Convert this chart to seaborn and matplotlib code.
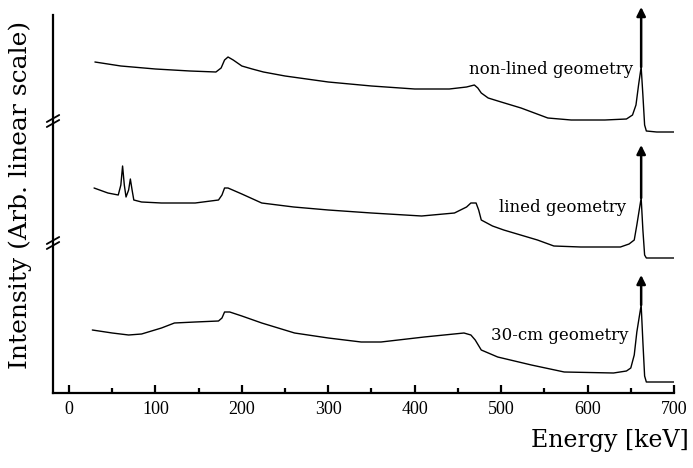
import numpy as np
import pandas as pd
import matplotlib
matplotlib.use("Agg")
import matplotlib.pyplot as plt
import matplotlib.transforms as mtransforms
import seaborn as sns

# Gamma-ray spectra (Cs-137 source), relative counts per spectrum
energy_nonlined = [30, 60, 100, 140, 170, 176, 180, 184, 190, 200, 212, 225, 250, 275,
                   300, 350, 400, 440, 460, 469, 473, 477, 485, 500, 523, 554, 581,
                   620, 645, 652, 656, 659, 662, 664, 666, 668, 680, 700]
counts_nonlined = [71, 67, 64, 62, 61, 65, 73, 76, 73, 67, 64, 61, 57, 54,
                   51, 47, 44, 44, 46, 48, 45, 40, 35, 31, 25, 15, 13,
                   13, 14, 18, 28, 48, 66, 38, 8, 2, 1, 1]

energy_lined = [29, 45, 57, 60, 62, 64, 66, 69, 71, 73, 75, 84, 107, 146, 173, 177,
                180, 184, 200, 223, 260, 300, 350, 408, 446, 460, 465, 471, 474,
                477, 490, 503, 542, 561, 592, 638, 648, 654, 657, 662, 664, 666,
                668, 700]
counts_lined = [70, 65, 63, 73, 92, 73, 61, 68, 79, 68, 58, 56, 55, 55, 58, 63,
                70, 70, 64, 55, 51, 48, 45, 42, 45, 51, 55, 55, 48,
                38, 32, 28, 18, 12, 11, 11, 14, 18, 33, 60, 28, 3,
                0, 0]

energy_30cm = [27, 50, 69, 84, 107, 122, 146, 173, 177, 180, 186, 200, 223, 261,
               300, 338, 361, 411, 457, 465, 470, 477, 496, 535, 573, 630, 645,
               650, 654, 657, 662, 664, 666, 668, 700]
counts_30cm = [52, 49, 47, 48, 54, 59, 60, 61, 64, 70, 70, 66, 59, 49,
               44, 40, 40, 45, 49, 47, 42, 32, 25, 17, 10, 9, 11,
               14, 27, 50, 77, 40, 6, 0, 0]

labels = ["non-lined geometry", "lined geometry", "30-cm geometry"]
offsets = [260, 135, 11]          # vertical stacking of the spectra
peak_energy = 662                  # Cs-137 photopeak (off scale)
arrow_tops = [126, 113, 107]       # arrow tip height above each spectrum's baseline

series = [(energy_nonlined, counts_nonlined), (energy_lined, counts_lined),
          (energy_30cm, counts_30cm)]

sns.set_theme(style="white")
plt.rcParams["font.family"] = ["DejaVu Serif"]
plt.rcParams["text.color"] = "black"
plt.rcParams["axes.labelcolor"] = "black"
plt.rcParams["xtick.color"] = "black"

fig = plt.figure(figsize=(6.93, 4.68), dpi=100)
ax = fig.add_axes([53 / 693, (468 - 393) / 468, 621 / 693, 378 / 468])

for (e, c), off, name in zip(series, offsets, labels):
    df = pd.DataFrame({"Energy": e, "Intensity": np.array(c) + off})
    sns.lineplot(data=df, x="Energy", y="Intensity", ax=ax, color="black",
                 linewidth=1.0, estimator=None, sort=False)

for (e, c), off, top in zip(series, offsets, arrow_tops):
    peak = c[e.index(peak_energy)] + off
    ax.annotate("", xy=(peak_energy, off + top), xytext=(peak_energy, peak),
                arrowprops=dict(arrowstyle="-|>", color="black", lw=1.8,
                                mutation_scale=13, shrinkA=0, shrinkB=0),
                annotation_clip=False)

label_pos = [(653, 323), (645, 185), (647, 58)]
for (x, y), name in zip(label_pos, labels):
    ax.text(x, y, name, ha="right", va="center", fontsize=12, color="black")

ax.set_xlim(-18.5, 700)
ax.set_ylim(0, 378)
ax.set_yticks([])
ax.set_xticks(range(0, 701, 100))
ax.set_xticks(range(50, 701, 100), minor=True)
ax.tick_params(axis="x", which="major", direction="in", length=6, width=1.6,
               pad=6, labelsize=13, bottom=True, colors="black")
ax.tick_params(axis="x", which="minor", direction="in", length=3.5, width=1.6,
               bottom=True, colors="black")
for lab in ax.get_xticklabels():
    lab.set_fontfamily("Liberation Serif")

for s in ["top", "right"]:
    ax.spines[s].set_visible(False)
for s in ["left", "bottom"]:
    ax.spines[s].set_linewidth(1.6)
    ax.spines[s].set_color("black")

# axis-break marks on the intensity axis
trans = mtransforms.blended_transform_factory(ax.transAxes, ax.transData)
for yb in [272, 150]:
    for dy in (-2.5, 2.5):
        ax.plot([-0.010, 0.010], [yb + dy - 3.5, yb + dy + 3.5], transform=trans,
                color="black", lw=1.3, clip_on=False)

ax.set_xlabel("Energy [keV]", fontsize=17, color="black")
ax.xaxis.set_label_coords(0.897, -0.095)
ax.set_ylabel("Intensity (Arb. linear scale)", fontsize=18, color="black")
ax.yaxis.set_label_coords(-0.034, 0.524)

fig.savefig("out.png", dpi=100)
